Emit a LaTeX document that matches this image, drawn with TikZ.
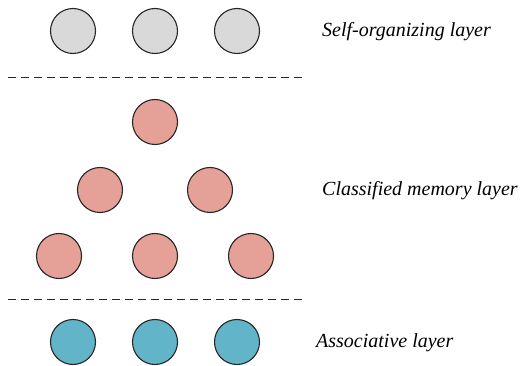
\documentclass[tikz,border=0pt]{standalone}
\usepackage{fontspec}
\setmainfont{Liberation Serif}
\usetikzlibrary{positioning}
\definecolor{selfgray}{HTML}{D9D9D9}
\definecolor{memred}{HTML}{E5A098}
\definecolor{assocblue}{HTML}{62B5C9}
\tikzset{
  neuron/.style={circle, draw=black!85, line width=1.1pt, minimum size=45pt, inner sep=0pt},
  selfn/.style={neuron, fill=selfgray},
  memn/.style={neuron, fill=memred},
  assocn/.style={neuron, fill=assocblue},
  divider/.style={draw=black!85, line width=1pt, dash pattern=on 8pt off 5pt},
  layerlabel/.style={anchor=base west, inner sep=0pt, font=\fontsize{20}{24}\selectfont\itshape}
}
\begin{document}
\begin{tikzpicture}[x=1pt, y=-1pt]
  \useasboundingbox (0,0) rectangle (522,366);
  % self-organizing layer
  \node[selfn] (s1) at (73,31) {};
  \node[selfn] (s2) at (155,31) {};
  \node[selfn] (s3) at (237,31) {};
  % classified memory layer
  \node[memn] (m1) at (155,122) {};
  \node[memn] (m2) at (100,190) {};
  \node[memn] (m3) at (210,190) {};
  \node[memn] (m4) at (59,256) {};
  \node[memn] (m5) at (155,256) {};
  \node[memn] (m6) at (251,256) {};
  % associative layer
  \node[assocn] (a1) at (73,342) {};
  \node[assocn] (a2) at (155,342) {};
  \node[assocn] (a3) at (237,342) {};
  % dividers
  \coordinate (d1l) at (8,78);
  \coordinate (d1r) at (305,78);
  \coordinate (d2l) at (8,299);
  \coordinate (d2r) at (305,299);
  \draw[divider] (d1l) -- (d1r);
  \draw[divider] (d2l) -- (d2r);
  % labels
  \node[layerlabel] (ls) at (322,37) {Self-organizing layer};
  \node[layerlabel] (lm) at (322,196) {Classified memory layer};
  \node[layerlabel] (la) at (316,347) {Associative layer};
\end{tikzpicture}
\end{document}
